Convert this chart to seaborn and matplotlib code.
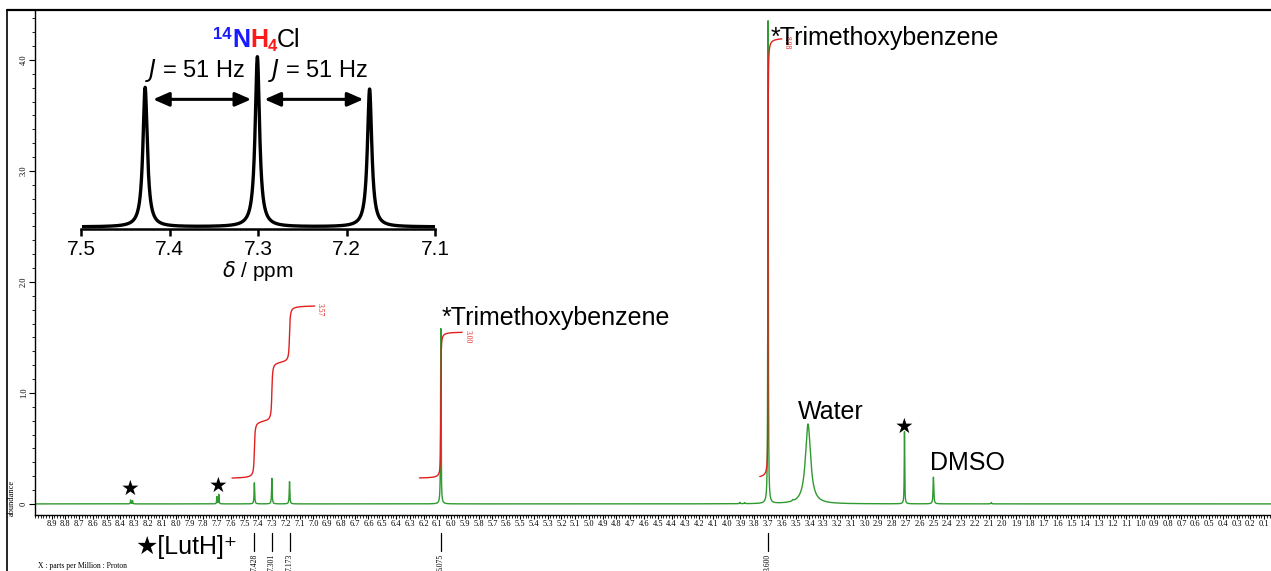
import numpy as np
import pandas as pd
import matplotlib
matplotlib.use("Agg")
import matplotlib.pyplot as plt
import seaborn as sns
from matplotlib.ticker import MultipleLocator, FixedLocator
from matplotlib.lines import Line2D
import matplotlib.transforms as mtransforms

# ---------------- data ----------------
peak_ppm    = [8.326, 8.312, 7.700, 7.686, 7.428, 7.301, 7.173, 6.075, 3.700,
               3.905, 3.870, 3.520, 3.410, 2.710, 2.500, 2.080]
peak_height = [0.035, 0.028, 0.065, 0.085, 0.19, 0.23, 0.20, 1.58, 4.35,
               0.012, 0.010, 0.010, 0.72, 0.65, 0.24, 0.012]
peak_fwhm   = [0.004, 0.004, 0.004, 0.004, 0.005, 0.005, 0.005, 0.004, 0.004,
               0.006, 0.006, 0.01, 0.045, 0.004, 0.006, 0.006]

int_start  = [7.59, 6.23, 3.76]
int_end    = [6.99, 5.92, 3.60]
int_steps  = [[7.428, 7.301, 7.173], [6.075], [3.700]]
int_levels = [[0.225, 0.74, 1.28, 1.79], [0.23, 1.55], [0.23, 4.20]]
int_width  = [0.004, 0.0015, 0.0008]
int_labels = ["3.57", "3.00", "8.98"]

pick_ppm  = [7.428, 7.301, 7.173, 6.075, 3.700]
pick_text = ["7.428", "7.301", "7.173", "6.075", "3.600"]

inset_ppm    = [7.428, 7.301, 7.174]
inset_height = [0.82, 1.00, 0.81]
inset_fwhm   = [0.006, 0.006, 0.006]
inset_ticks  = [7.5, 7.4, 7.3, 7.2, 7.1]

labels_text = ["*Trimethoxybenzene", "*Trimethoxybenzene", "Water", "DMSO"]
labels_ppm  = [6.068, 3.678, 3.48, 2.524]
labels_val  = [1.676, 4.20, 0.83, 0.37]
star_ppm = [8.33, 7.69, 2.71]
star_val = [0.135, 0.16, 0.69]

# ---------------- build curves ----------------
def lorentz(x, x0, h, w):
    g = w / 2.0
    return h * g**2 / ((x - x0)**2 + g**2)

x = np.linspace(9.02, 0.05, 90000)
y = np.zeros_like(x)
for p, h, w in zip(peak_ppm, peak_height, peak_fwhm):
    y += lorentz(x, p, h, w)
spec = pd.DataFrame({"ppm": x, "abundance": y})

xi = np.linspace(7.5, 7.1, 8000)
yi = np.zeros_like(xi)
for p, h, w in zip(inset_ppm, inset_height, inset_fwhm):
    yi += lorentz(xi, p, h, w)
inset_df = pd.DataFrame({"ppm": xi, "int": yi})

# ---------------- figure ----------------
sns.set_theme(style="ticks")
plt.rcParams["font.family"] = ["Liberation Sans", "DejaVu Sans"]
for k in ["text.color", "axes.labelcolor", "xtick.color", "ytick.color", "axes.edgecolor"]:
    plt.rcParams[k] = "black"
W, H = 1271, 571
fig = plt.figure(figsize=(W / 100, H / 100), dpi=100)

def fx(px): return px / W
def fy(py): return 1 - py / H

ax = fig.add_axes([fx(35), fy(515), fx(1271) - fx(35), fy(10) - fy(515)])
green = "#2f9a2f"
red = "#e02020"
sns.lineplot(data=spec, x="ppm", y="abundance", ax=ax, color=green, lw=1.0,
             sort=False, estimator=None)
ax.set_xlim(9.02, 0.05)
ax.set_ylim(-0.10, 4.45)
ax.set_xlabel("")
ax.set_ylabel("")

# integrals
for xs, xe, steps, lev, wd, lab in zip(int_start, int_end, int_steps, int_levels,
                                       int_width, int_labels):
    xx = np.linspace(xs, xe, 4000)
    yy = np.full_like(xx, lev[0])
    for s, l0, l1 in zip(steps, lev[:-1], lev[1:]):
        yy += (l1 - l0) * (0.5 + np.arctan((s - xx) / wd) / np.pi)
    ax.plot(xx, yy, color=red, lw=1.0)
    ax.text(xe - 0.01, lev[-1] + 0.02, lab, rotation=-90, color=red,
            fontsize=5.5, family="Liberation Serif", va="top", ha="left")

# spines / ticks
for s in ["right", "top"]:
    ax.spines[s].set_visible(False)
ax.spines["left"].set_linewidth(1.0)
ax.spines["bottom"].set_linewidth(1.0)
xt = np.round(np.arange(0.1, 8.95, 0.1), 1)
ax.xaxis.set_major_locator(FixedLocator(xt))
ax.xaxis.set_minor_locator(MultipleLocator(0.02))
ax.set_xticklabels([f"{v:.1f}" for v in xt])
ax.yaxis.set_major_locator(FixedLocator([0, 1, 2, 3, 4]))
ax.yaxis.set_minor_locator(MultipleLocator(0.125))
ax.set_yticklabels(["0", "1.0", "2.0", "3.0", "4.0"])
ax.tick_params(axis="x", which="major", length=3, width=0.8, labelsize=6, pad=0.5,
               direction="out")
ax.tick_params(axis="x", which="minor", length=1.8, width=0.6, direction="out")
ax.tick_params(axis="y", which="major", length=4, width=0.8, labelsize=6, pad=1,
               direction="out", labelrotation=90)
ax.tick_params(axis="y", which="minor", length=2.5, width=0.6, direction="out")
for t in ax.get_xticklabels() + ax.get_yticklabels():
    t.set_family("Liberation Serif")
for t in ax.get_yticklabels():
    t.set_va("center")

# peak picks below axis
trans = mtransforms.blended_transform_factory(ax.transData, ax.transAxes)
for p, t in zip(pick_ppm, pick_text):
    ax.plot([p, p], [-0.0356, -0.0713], transform=trans, color="black", lw=0.9,
            clip_on=False)
    ax.text(p, -0.077, t, transform=trans, rotation=90, ha="center", va="top",
            fontsize=5.5, family="Liberation Serif", clip_on=False)

# labels
for t, px_, v in zip(labels_text, labels_ppm, labels_val):
    ax.text(px_, v, t, fontsize=18, ha="left", va="center", color="black")
for px_, v in zip(star_ppm, star_val):
    ax.text(px_, v, "★", fontsize=15, ha="center", va="center",
            family="DejaVu Sans", color="black")

fig.text(fx(135), fy(547), "★[LutH]⁺", fontsize=18, ha="left", va="center",
         family=["Liberation Sans", "DejaVu Sans"])
fig.text(fx(12), fy(498), "abundance", rotation=90, fontsize=6,
         family="Liberation Serif", ha="center", va="center")
fig.text(fx(38), fy(566), "X : parts per Million : Proton", fontsize=5.5,
         family="Liberation Serif", ha="left", va="center")

# outer frame
fig.add_artist(Line2D([fx(7), 1.0], [fy(10), fy(10)], transform=fig.transFigure,
                      color="black", lw=1.6))
fig.add_artist(Line2D([fx(7), fx(7)], [fy(10), 0], transform=fig.transFigure,
                      color="black", lw=1.2))

# ---------------- inset ----------------
axi = fig.add_axes([fx(81.5), fy(229), fx(435) - fx(81.5), fy(50) - fy(229)])
axi.patch.set_alpha(0)
sns.lineplot(data=inset_df, x="ppm", y="int", ax=axi, color="black", lw=2.4,
             sort=False, estimator=None)
axi.set_xlim(7.5, 7.1)
axi.set_ylim(-0.012, 1.04)
for s in ["left", "right", "top"]:
    axi.spines[s].set_visible(False)
axi.spines["bottom"].set_linewidth(1.8)
axi.set_yticks([])
axi.set_xticks(inset_ticks)
axi.set_xticklabels([f"{v:.1f}" for v in inset_ticks])
axi.tick_params(axis="x", length=5, width=1.8, labelsize=15, pad=3)
axi.set_xlabel(r"$\delta$ / ppm", fontsize=15, labelpad=0)
axi.set_ylabel("")

arrow_kw = dict(arrowstyle="<|-|>,head_length=0.8,head_width=0.35", color="black",
                lw=2.2, shrinkA=0, shrinkB=0)
axi.annotate("", xy=(7.419, 0.75), xytext=(7.308, 0.75), arrowprops=arrow_kw)
axi.annotate("", xy=(7.293, 0.75), xytext=(7.181, 0.75), arrowprops=arrow_kw)
axi.text(7.371, 0.92, "$J$ = 51 Hz", fontsize=17, ha="center", va="center")
axi.text(7.232, 0.92, "$J$ = 51 Hz", fontsize=17, ha="center", va="center")

# coloured title 14NH4Cl
pieces = [("14", "#1a1aff", "bold", 12, 8),
          ("N", "#1a1aff", "bold", 18, 0),
          ("H", "#ff1a1a", "bold", 18, 0),
          ("4", "#ff1a1a", "bold", 12, -4),
          ("Cl", "black", "normal", 18, 0)]
fig.canvas.draw()
rend = fig.canvas.get_renderer()
widths = []
for s, c, wgt, sz, dy in pieces:
    t = fig.text(0, 0, s, fontsize=sz, fontweight=wgt)
    widths.append(t.get_window_extent(rend).width)
    t.remove()
xpos = 257 - sum(widths) / 2
base = 47
for (s, c, wgt, sz, dy), w in zip(pieces, widths):
    fig.text(fx(xpos), fy(base - dy), s, fontsize=sz, fontweight=wgt, color=c,
             ha="left", va="baseline")
    xpos += w

fig.savefig("out.png", dpi=100)
